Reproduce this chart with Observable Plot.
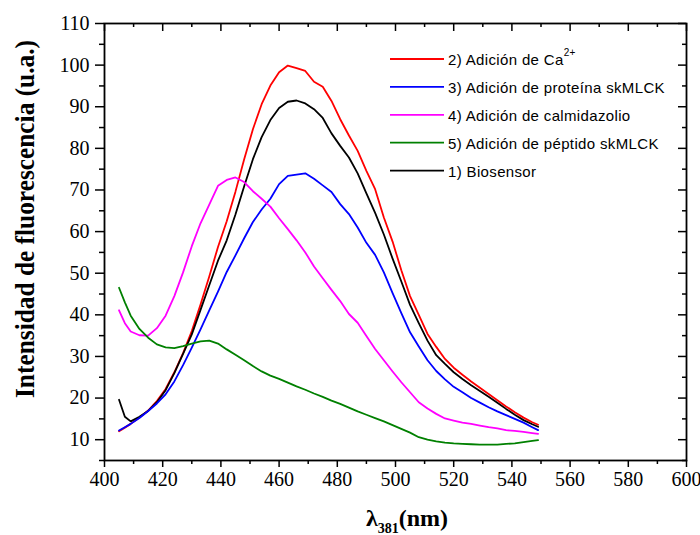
<!DOCTYPE html>
<html><head><meta charset="utf-8">
<script src="https://cdn.jsdelivr.net/npm/d3@7"></script>
<script src="https://cdn.jsdelivr.net/npm/@observablehq/plot@0.6"></script>
<style>body{margin:0;background:#fff} #chart{width:700px;height:535px}
#chart svg text{font-family:'Liberation Serif','Times New Roman',serif !important;}
#chart svg text.legend{font-family:'Liberation Sans',Arial,sans-serif !important;}
</style>
</head><body><div id="chart"></div>
<script>
// Wavelength (nm)
const wavelength = [405, 407, 409, 412, 415, 418, 421, 424, 427, 430, 433, 436, 439, 442, 445, 448, 451, 454, 457, 460, 463, 466, 469, 472, 475, 478, 481, 484, 487, 490, 493, 496, 499, 502, 505, 508, 511, 514, 517, 520, 523, 526, 529, 532, 535, 538, 541, 544, 547, 549];
// 2) Adición de Ca2+
const calcio = [12.0, 12.9, 13.8, 15.3, 17.0, 19.3, 22.2, 26.2, 30.8, 36.1, 42.5, 49.2, 56.3, 62.5, 69.6, 77.4, 84.6, 90.6, 95.1, 98.3, 99.9, 99.3, 98.6, 96.0, 94.8, 91.4, 87.0, 83.1, 79.4, 74.6, 70.2, 63.4, 57.6, 50.7, 44.5, 40.0, 35.4, 32.3, 29.4, 27.3, 25.6, 24.0, 22.5, 21.0, 19.5, 18.0, 16.6, 15.3, 14.2, 13.6];
// 3) Adición de proteína skMLCK
const proteina = [12.2, 13.0, 13.8, 15.2, 16.9, 18.7, 20.9, 24.0, 27.9, 32.1, 36.5, 41.1, 45.6, 50.3, 54.3, 58.4, 62.3, 65.3, 67.9, 71.4, 73.4, 73.7, 74.0, 72.7, 71.1, 69.5, 66.6, 64.2, 61.0, 57.3, 54.4, 50.2, 45.2, 40.4, 35.8, 32.4, 29.1, 26.5, 24.5, 22.7, 21.4, 20.0, 18.9, 17.8, 16.8, 15.9, 15.0, 14.1, 13.0, 12.3];
// 4) Adición de calmidazolio
const calmidazolio = [41.1, 38.0, 36.0, 35.1, 35.0, 36.8, 39.8, 44.5, 50.2, 56.5, 62.0, 66.5, 71.0, 72.4, 73.0, 71.9, 69.7, 67.9, 66.0, 63.2, 60.6, 57.9, 55.0, 51.6, 48.8, 46.0, 43.3, 40.2, 38.1, 34.9, 31.8, 29.1, 26.4, 23.8, 21.4, 19.0, 17.5, 16.2, 15.1, 14.6, 14.1, 13.8, 13.4, 13.0, 12.7, 12.3, 12.1, 11.9, 11.6, 11.4];
// 5) Adición de péptido skMLCK
const peptido = [46.5, 43.0, 39.8, 36.6, 34.5, 32.9, 32.2, 32.0, 32.5, 33.1, 33.6, 33.8, 33.1, 31.7, 30.4, 29.1, 27.7, 26.4, 25.4, 24.6, 23.7, 22.8, 22.0, 21.1, 20.3, 19.4, 18.6, 17.7, 16.8, 16.0, 15.2, 14.4, 13.5, 12.6, 11.7, 10.6, 10.0, 9.6, 9.3, 9.1, 9.0, 8.9, 8.8, 8.8, 8.8, 9.0, 9.1, 9.4, 9.7, 9.9];
// 1) Biosensor
const biosensor = [19.6, 15.5, 14.4, 15.5, 16.9, 19.0, 21.9, 26.0, 30.6, 35.3, 41.2, 47.1, 53.0, 57.9, 64.1, 70.9, 77.4, 82.7, 86.8, 89.7, 91.2, 91.5, 90.8, 89.4, 87.3, 83.6, 80.6, 77.8, 74.0, 69.2, 64.5, 59.3, 53.5, 48.0, 42.4, 38.0, 33.8, 30.3, 28.2, 26.2, 24.6, 23.1, 21.7, 20.3, 18.9, 17.4, 16.0, 14.7, 13.7, 13.1];

const legendLabels = ["2) Adición de Ca", "3) Adición de proteína skMLCK", "4) Adición de calmidazolio", "5) Adición de péptido skMLCK", "1) Biosensor"];
const legendSup = ["2+", "", "", "", ""];
const seriesColors = ["#ff0000", "#0000ff", "#ff00ff", "#008000", "#000000"];
const seriesValues = [calcio, proteina, calmidazolio, peptido, biosensor];

const xTicks = d3.range(400, 601, 20);
const xMinor = d3.range(410, 600, 20);
const yTicks = d3.range(10, 111, 10);
const yMinor = d3.range(5, 110, 10);
const yTitle = "Intensidad de fluorescencia (u.a.)";

const serif = "'Liberation Serif','Times New Roman',serif";
const W = 700, H = 535, mt = 23, mb = 75, ml = 104, mr = 14;
const plotW = W - ml - mr, plotH = H - mt - mb;

const drawOrder = [0, 4, 1, 2, 3];
const lineMarks = drawOrder.map(i => Plot.line(
  wavelength.map((x, j) => ({x, y: seriesValues[i][j]})),
  {x: "x", y: "y", stroke: seriesColors[i], strokeWidth: 1.8}
));

const chart = Plot.plot({
  width: W, height: H,
  marginTop: mt, marginBottom: mb, marginLeft: ml, marginRight: mr,
  style: {fontSize: "20px", color: "#000", background: "#fff"},
  x: {domain: [400, 600]},
  y: {domain: [5, 110]},
  marks: [
    ...lineMarks,
    Plot.axisY(yTicks, {anchor: "left", tickSize: 9, tickPadding: 6, label: null, strokeWidth: 1.5, fontSize: 20}),
    Plot.axisY(yMinor, {anchor: "left", tickSize: 5, tickFormat: () => "", label: null, strokeWidth: 1.5}),
    Plot.axisX(xTicks, {anchor: "bottom", tickSize: 7, tickPadding: 4, label: null, strokeWidth: 1.5, fontSize: 20}),
    Plot.axisX(xMinor, {anchor: "bottom", tickSize: 4, tickFormat: () => "", label: null, strokeWidth: 1.5}),
    Plot.tickX(xTicks, {x: d => d, insetBottom: plotH - 8, stroke: "#000", strokeWidth: 1.5}),
    Plot.tickX(xMinor, {x: d => d, insetBottom: plotH - 4, stroke: "#000", strokeWidth: 1.5}),
    Plot.tickY(yTicks, {y: d => d, insetLeft: plotW - 8, stroke: "#000", strokeWidth: 1.5}),
    Plot.tickY(yMinor, {y: d => d, insetLeft: plotW - 4, stroke: "#000", strokeWidth: 1.5}),
    Plot.frame({stroke: "#000", strokeWidth: 1.8})
  ]
});
document.getElementById("chart").appendChild(chart);

const svg = d3.select(chart);

// Y title
svg.append("text")
  .attr("transform", `translate(34,${mt + 196}) rotate(-90)`)
  .attr("text-anchor", "middle")
  .attr("font-family", serif)
  .attr("font-weight", "bold")
  .attr("font-size", 28)
  .attr("textLength", 358)
  .attr("lengthAdjust", "spacingAndGlyphs")
  .attr("fill", "#000")
  .text(yTitle);
// X title
const xt = svg.append("text")
  .attr("x", 407).attr("y", 526)
  .attr("text-anchor", "middle")
  .attr("font-family", serif)
  .attr("font-weight", "bold")
  .attr("font-size", 24)
  .attr("fill", "#000");
xt.append("tspan").text("λ");
xt.append("tspan").attr("font-size", 14).attr("dy", 7).text("381");
xt.append("tspan").attr("dy", -7).text("(nm)");

// Legend
const lg = svg.append("g");
legendLabels.forEach((lab, i) => {
  const yy = 59 + i * 27.9;
  lg.append("line").attr("x1", 390).attr("x2", 444).attr("y1", yy).attr("y2", yy)
    .attr("stroke", seriesColors[i]).attr("stroke-width", 1.8);
  const t = lg.append("text").attr("class", "legend").attr("x", 448).attr("y", yy + 6)
    .attr("text-anchor", "start")
    .attr("font-family", "'Liberation Sans',Arial,sans-serif")
    .attr("font-size", 15).attr("letter-spacing", "0.35px").attr("fill", "#000");
  t.append("tspan").text(lab);
  if (legendSup[i]) t.append("tspan").attr("font-size", 10).attr("dy", -9).text(legendSup[i]);
});
</script>
</body></html>
